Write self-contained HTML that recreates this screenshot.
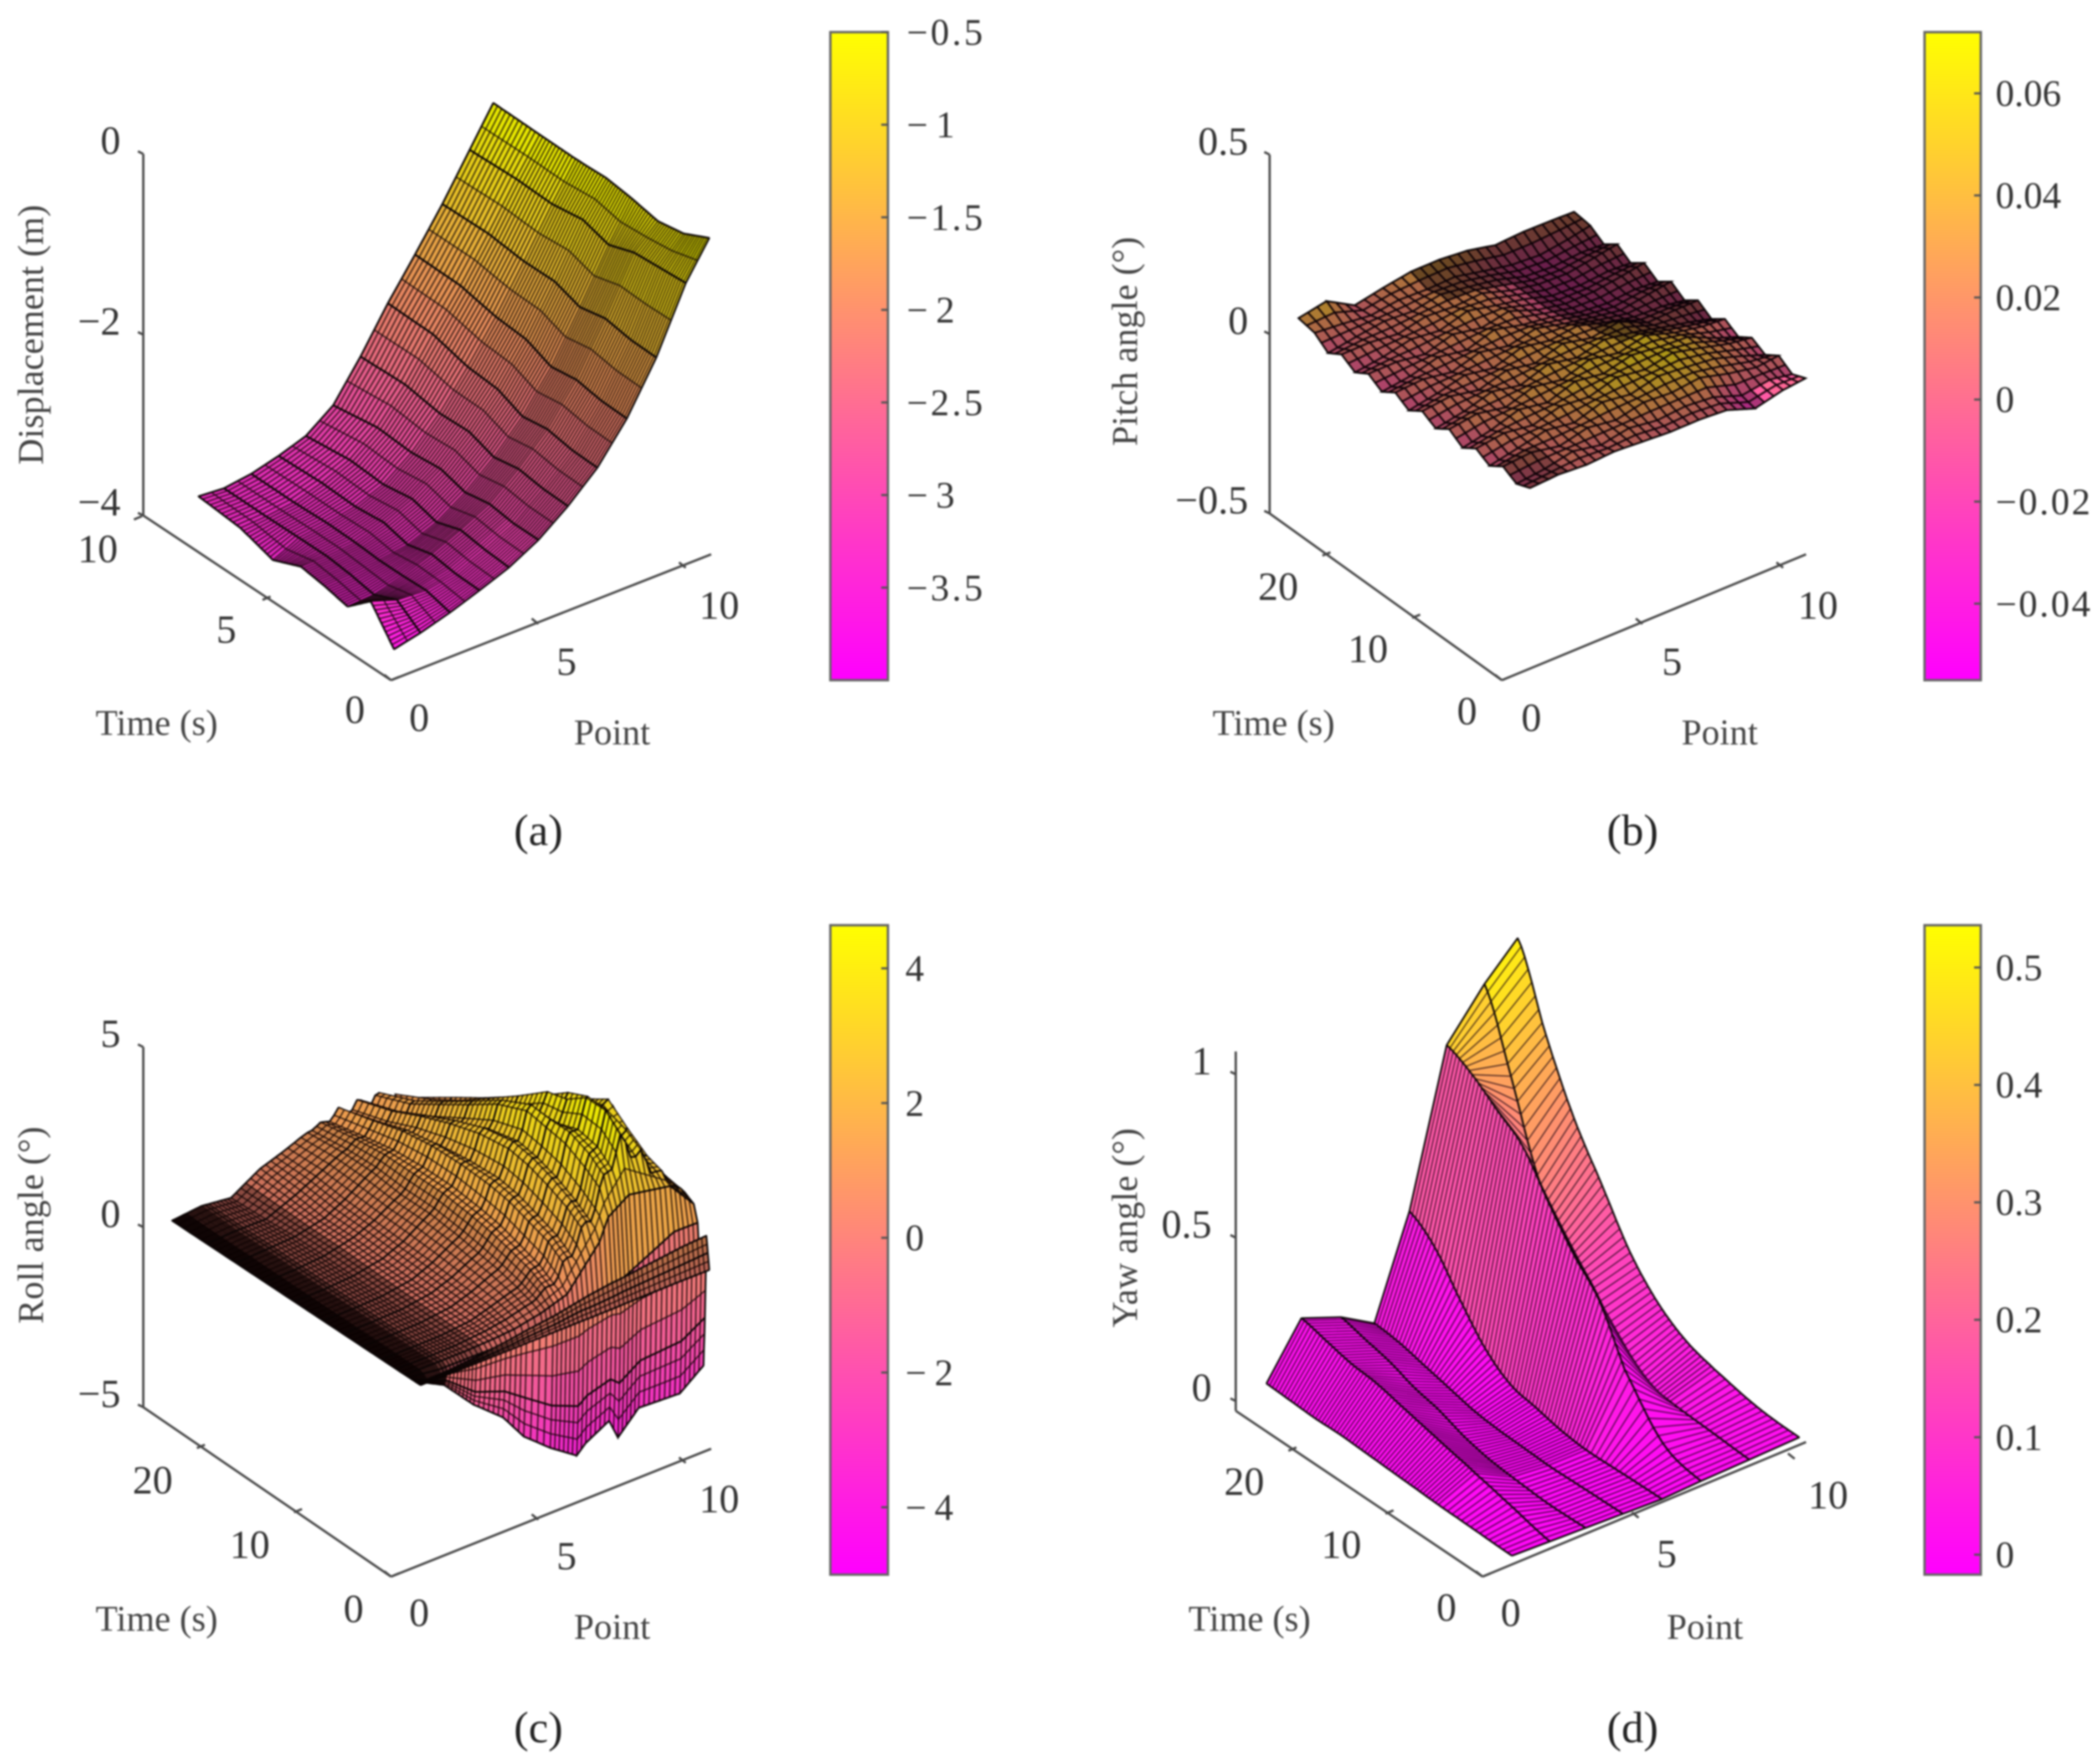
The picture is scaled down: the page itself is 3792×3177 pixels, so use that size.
<!DOCTYPE html>
<html lang="en">
<head>
<meta charset="utf-8">
<title>Surface plots of displacement, pitch, roll and yaw</title>
<style>
html,body{margin:0;padding:0;background:#fff}
svg{display:block;filter:blur(1.5px)}
text{font-family:"Liberation Serif",serif;fill:#333}
.tick{font-size:30px;text-anchor:middle}
.ztick{font-size:30px;text-anchor:end}
.bar{font-size:28px;text-anchor:start}
.title{font-size:27px;text-anchor:middle;fill:#444}
.cap{font-size:33px;text-anchor:middle;fill:#222}
</style>
</head>
<body>
<svg id="fig" xmlns="http://www.w3.org/2000/svg" width="3792" height="3177" viewBox="0 0 1568 1313.7">
<defs>
<linearGradient id="springGrad" x1="0" y1="1" x2="0" y2="0">
<stop offset="0" stop-color="#ff00ff"/><stop offset="0.5" stop-color="#ff8080"/><stop offset="1" stop-color="#ffff00"/>
</linearGradient>
</defs>
<rect width="1568" height="1313.7" fill="#fff"/>

<g id="chart-a"></g>
<g id="chart-b"></g>
<g id="chart-c"></g>
<g id="chart-d"></g>

<text class="title" transform="rotate(-90 23 250)" x="23" y="250" dy="9">Displacement (m)</text>
<text class="title" x="117" y="549">Time (s)</text>
<text class="title" x="457" y="556">Point</text>
<text class="cap" x="402" y="631">(a)</text>

<text class="title" transform="rotate(-90 840 255)" x="840" y="255" dy="9">Pitch angle (°)</text>
<text class="title" x="951" y="549">Time (s)</text>
<text class="title" x="1284" y="556">Point</text>
<text class="cap" x="1219" y="631">(b)</text>

<text class="title" transform="rotate(-90 23 915)" x="23" y="915" dy="9">Roll angle (°)</text>
<text class="title" x="117" y="1218">Time (s)</text>
<text class="title" x="457" y="1224">Point</text>
<text class="cap" x="402" y="1301">(c)</text>

<text class="title" transform="rotate(-90 840 917)" x="840" y="917" dy="9">Yaw angle (°)</text>
<text class="title" x="933" y="1218">Time (s)</text>
<text class="title" x="1273" y="1224">Point</text>
<text class="cap" x="1219" y="1301">(d)</text>
</svg>

<script>
/* ---------- chart (a) values: displacement (m) ---------- */
const pointsA = [0.1,1,2,3,4,5,6,7,8,9,10,10.8];
const timesA = [0,1,2,3,4,5.2,6.6,8.4];
const timeSpanA = [0.905,0.91,0.92,0.93,0.94,0.95,0.96,0.97,0.98,0.99,1,1];
const displacementA = [
 [-3.67,-3.6,-3.5,-3.38,-3.25,-3.07,-2.82,-2.52,-2.1,-1.55,-0.85,-0.45],
 [-3.3,-3.4,-3.42,-3.36,-3.22,-3.06,-2.8,-2.5,-2.08,-1.53,-0.86,-0.58],
 [-3.52,-3.5,-3.42,-3.31,-3.17,-3.01,-2.75,-2.44,-2.02,-1.47,-0.87,-0.62],
 [-3.45,-3.44,-3.41,-3.37,-3.25,-3.05,-2.79,-2.47,-2.05,-1.52,-0.96,-0.55],
 [-3.4,-3.4,-3.38,-3.29,-3.16,-2.96,-2.68,-2.34,-1.92,-1.41,-0.86,-0.5],
 [-3.52,-3.39,-3.36,-3.31,-3.2,-2.98,-2.68,-2.3,-1.88,-1.4,-0.9,-0.5],
 [-3.39,-3.38,-3.36,-3.28,-3.16,-2.94,-2.6,-2.18,-1.78,-1.34,-0.87,-0.48],
 [-3.33,-3.36,-3.34,-3.28,-3.2,-3,-2.6,-2.15,-1.75,-1.33,-0.87,-0.45]
];
const zTicksA = [0,-2,-4];
const zTickLabelsA = ['0','−2','−4'];
const timeTicksA = [0,5,10];
const timeTickLabelsA = ['0','5','10'];
const pointTicksA = [0,5,10];
const pointTickLabelsA = ['0','5','10'];
const barTicksA = [-0.5,-1,-1.5,-2,-2.5,-3,-3.5];
const barTickLabelsA = ['−0.5','−1','−1.5','−2','−2.5','−3','−3.5'];
const colorLimitsA = [-4,-0.5];

/* ---------- chart (b) values: pitch angle (deg) ---------- */
const pointsB = [1,2,3,4,5,6,7,8,9,10,10.8];
const timesB = [0,1.5,3,4.5,6,7.5,9,10.5,12,13.5,15,16.5,18,19.5,21,22.5,24,25.8];
const timeSpanB = [1,1,1,1,1,1,1,1,1,1,1];
const pitchB = [
 [.004,.010,.006,.012,.008,.004,.006,.002,-.025,-.005,.003],
 [-.010,.000,.018,.004,.020,.010,.018,.012,-.015,-.002,-.012],
 [.012,.020,.006,.026,.016,.034,.030,.040,.020,.006,.014],
 [-.012,.006,.024,.014,.040,.030,.050,.044,.036,.012,-.010],
 [.010,.022,.012,.034,.028,.052,.042,.058,.040,.020,.012],
 [-.014,.004,.030,.018,.046,.036,.056,.048,.044,.010,-.012],
 [.012,.024,.010,.036,.024,.050,.036,.054,.030,.016,.012],
 [-.012,.004,.028,.014,.042,.028,.048,.036,.018,.002,-.014],
 [.010,.020,.006,.030,.018,.042,.026,.040,.006,.010,.012],
 [-.014,.002,.022,.010,.036,.024,.034,.012,-.004,-.006,-.014],
 [.010,.016,.004,.028,.014,.032,.014,.000,-.012,.002,.012],
 [-.014,-.002,.020,.008,.034,.016,.006,-.012,-.018,-.010,-.014],
 [.010,.012,.002,.026,.012,.028,.000,-.014,-.012,.000,.012],
 [-.012,.000,.018,.010,.034,.018,.004,-.018,-.020,-.012,-.014],
 [.012,.014,.006,.024,.020,.026,.002,-.012,-.014,.000,.012],
 [-.010,.004,.016,.012,.028,.018,.006,-.016,-.020,-.012,-.014],
 [.020,.014,.006,.018,.016,.020,.004,-.010,-.014,-.002,.012],
 [.030,.046,.003,.020,.034,.036,.030,.014,.020,.020,.019]
];
const zTicksB = [0.5,0,-0.5];
const zTickLabelsB = ['0.5','0','−0.5'];
const timeTicksB = [0,10,20];
const timeTickLabelsB = ['0','10','20'];
const pointTicksB = [0,5,10];
const pointTickLabelsB = ['0','5','10'];
const barTicksB = [0.06,0.04,0.02,0,-0.02,-0.04];
const barTickLabelsB = ['0.06','0.04','0.02','0','−0.02','−0.04'];
const colorLimitsB = [-0.055,0.072];

/* ---------- chart (c) values: roll angle (deg) ---------- */
const pointsC = [1,2,3,4,4.7,5.6,6.5,6.8,7.6,7.9,8.6,10,10.8];
const timesC = [0,0.15,0.3,0.45,0.6,0.8,1.2,1.6,2.5,4,6,8,10,13,16,19,22,25.6];
const timeSpanC = [1,1,1,1,1,1,1,1,1,1,1,1,1];
const rollC = [
 [0,0,.01,.02,.03,.04,.05,.05,.06,.07,.08,.1,.1],
 [0,.01,.05,.1,.15,.2,.3,.3,.35,.38,.42,.5,.55],
 [0,.02,.1,.2,.3,.4,.55,.6,.7,.72,.8,.95,1],
 [0,-.25,-.9,-1.2,-1.6,-2.1,-2.4,-2.2,-2,-2.2,-1.8,-1.7,-1.3],
 [0,-.42,-1.28,-1.95,-2.7,-3.3,-3.8,-3.55,-3.18,-3.74,-3.14,-3.18,-2.66],
 [0,-.3,-1,-1.6,-2.3,-2.9,-3.3,-3.2,-2.8,-3,-2.2,-1.5,-.8],
 [0,-.1,-.1,-.1,-.2,-.3,-.3,-.2,0,.3,.6,1.2,1.2],
 [0,0,.01,.05,.1,.25,.5,.8,1.6,2.2,2.6,2.4,1.65],
 [0,0,.02,.1,.2,.4,.8,1.2,2.2,2.8,3.9,2.55,1.8],
 [0,.01,.03,.12,.3,.55,1.1,1.5,2.5,3.1,4.3,2.7,1.85],
 [0,.01,.04,.15,.35,.7,1.3,1.7,2.8,3.4,4.3,3.1,2],
 [0,.01,.05,.18,.4,.8,1.5,1.9,3,3.5,3.9,3.55,2.3],
 [0,.02,.06,.2,.45,.9,1.6,2,3.1,3.6,3.75,3.2,2.9],
 [0,.02,.08,.25,.5,1,1.7,2,2.9,3.25,3.1,2.6,2.36],
 [0,.03,.1,.3,.55,1,1.7,1.95,2.5,2.7,2.5,2.06,1.84],
 [0,.05,.1,.3,.6,1.1,1.6,1.8,2.05,2.17,1.9,1.54,1.3],
 [0,.05,.05,.4,.7,1.1,1.4,1.5,1.6,1.65,1.4,1,.76],
 [0,.09,0,.5,.7,1,1.15,1.2,1.25,1.25,.9,.2,-.1]
];
const rollRippleC = [.3,-.26,.22,-.32,.28,-.18,.34,-.28,.24,-.3,.2,-.24,.32,-.28];
const zTicksC = [5,0,-5];
const zTickLabelsC = ['5','0','−5'];
const timeTicksC = [0,10,20];
const timeTickLabelsC = ['0','10','20'];
const pointTicksC = [0,5,10];
const pointTickLabelsC = ['0','5','10'];
const barTicksC = [4,2,0,-2,-4];
const barTickLabelsC = ['4','2','0','−2','−4'];
const colorLimitsC = [-5,4.64];

/* ---------- chart (d) values: yaw angle (deg) ---------- */
const pointsD = [0.94,2.16,3.3,4.5,5.75,7,8.55,10.15];
const timesD = [0,4.35,8.7,11.6,14.5,17.4,20.3,23.2,26.1,29];
const timeSpanD = [0.872,0.883,0.869,0.883,0.897,0.903,0.941,1];
const yawD = [
 [0,0,0,0,0,.01,.02,.03],
 [.005,.03,0,0,0,.05,.03,.04],
 [.01,.06,.01,0,0,.2,.04,.07],
 [.015,.08,.02,.005,.01,.36,.06,.1],
 [.02,.1,.04,.01,.03,.45,.14,.16],
 [.025,.12,.07,.02,.05,.56,.25,.26],
 [.03,.14,.09,.04,.11,.68,.34,.41],
 [.03,.15,.12,.06,.21,.74,.47,.56],
 [.035,.17,.14,.08,.32,.8,.72,.76],
 [.04,.19,.16,.09,.38,.84,.95,1]
];
const yawColorWeightD = [0.1,0.1,0.1,0.1,0.1,0.21,0.47,0.5];
const zTicksD = [1,0.5,0];
const zTickLabelsD = ['1','0.5','0'];
const timeTicksD = [0,10,20];
const timeTickLabelsD = ['0','10','20'];
const pointTicksD = [0,5,10];
const pointTickLabelsD = ['0','5','10'];
const barTicksD = [0.5,0.4,0.3,0.2,0.1,0];
const barTickLabelsD = ['0.5','0.4','0.3','0.2','0.1','0'];
const colorLimitsD = [-0.017,0.536];

/* ---------- rendering ---------- */
const NS = 'http://www.w3.org/2000/svg';
function make(parent, tag, attrs){
  const el = document.createElementNS(NS, tag);
  for (const k in attrs) el.setAttribute(k, attrs[k]);
  parent.appendChild(el);
  return el;
}
function springColor(v, lim, shade){
  const f = Math.max(0, Math.min(1, (v - lim[0]) / (lim[1] - lim[0])));
  return 'rgb(' + Math.round(255 * shade) + ',' + Math.round(255 * f * shade) + ',' + Math.round(255 * (1 - f) * shade) + ')';
}
function expand(sub, n){
  const out = [];
  for (let i = 0; i < n - 1; i++){
    const s = Array.isArray(sub) ? sub[i] : sub;
    for (let k = 0; k < s; k++) out.push({i: i, f: k / s, first: k === 0});
  }
  const last = {i: n - 2, f: 1, first: true};
  out.push(last);
  return out;
}
function lerp(a, b, f){ return a + (b - a) * f; }
function catmull(a, b, c, d, f){
  return 0.5 * ((2 * b) + (c - a) * f + (2 * a - 5 * b + 4 * c - d) * f * f + (3 * b - a - 3 * c + d) * f * f * f);
}
function widenMinus(lb, text){
  if (text.charAt(0) === '−') lb.setAttribute('textLength', (lb.getComputedTextLength() + 6).toFixed(1));
}

function drawChart(c){
  const g = document.getElementById(c.id);
  const xOf = (p, t) => c.origin[0] + p * c.pointVec[0] + t * c.timeVec[0];
  const yOf = (p, t, z) => c.origin[1] + p * c.pointVec[1] + t * c.timeVec[1] - (z - c.zMin) * c.zScale;
  const zAxisY = v => c.zBase[1] - (v - c.zMin) * c.zScale;
  const axisStyle = {stroke: '#484848', 'stroke-width': 1.7, fill: 'none'};

  /* axes */
  const ax = make(g, 'g', axisStyle);
  
  
  const zLine = make(ax, 'line', {x1: c.zBase[0], y1: c.zBase[1], x2: c.zBase[0], y2: zAxisY(c.zMax)});
  
  
  const tLine = make(ax, 'line', {x1: c.origin[0], y1: c.origin[1], x2: c.zBase[0], y2: c.zBase[1]});
  
  
  const pLine = make(ax, 'line', {x1: c.origin[0], y1: c.origin[1], x2: c.pointEnd[0], y2: c.pointEnd[1]});
  
  

  c.zTicks.forEach((v, i) => {
    const y = zAxisY(v);
    const tk = make(ax, 'line', {x1: c.zBase[0], y1: y, x2: c.zBase[0] - 4, y2: y - 2});
    
    
    const lb = make(g, 'text', {'class': 'ztick', x: c.zBase[0] - c.zLabelGap, y: y});
    
    
    lb.textContent = c.zLabels[i];
  });
  c.timeTicks.forEach((v, i) => {
    const x = xOf(0, v), y = yOf(0, v, c.zMin);
    const tk = make(ax, 'line', {x1: x, y1: y, x2: x + 6, y2: y - 2.5});
    
    
    const lb = make(g, 'text', {'class': 'tick', x: x + c.timeOff[0] + (v === 0 ? c.timeZeroDx : 0), y: y + c.timeOff[1]});
    
    
    lb.textContent = c.timeLabels[i];
  });
  c.pointTicks.forEach((v, i) => {
    const x = xOf(v, 0), y = yOf(v, 0, c.zMin);
    const tk = make(ax, 'line', {x1: x, y1: y, x2: x - 5, y2: y - 4});
    
    
    const lb = make(g, 'text', {'class': 'tick', x: x + c.pointOff[0] + (v >= 10 ? 4 : 0), y: y + c.pointOff[1]});
    
    
    lb.textContent = c.pointLabels[i];
  });

  /* surface */
  const surf = make(g, 'g', {});
  
  
  const nR = c.times.length, nC = c.points.length;
  const colsG = expand(c.subPoint, nC), rowsG = expand(c.subTime, nR);
  const sampleRow = (r, col) => c.values[Math.max(0, Math.min(nR - 1, r))][col];
  const zAt = (rg, col) => {
    if (!c.smooth) return lerp(sampleRow(rg.i, col), sampleRow(rg.i + 1, col), rg.f);
    return catmull(sampleRow(rg.i - 1, col), sampleRow(rg.i, col), sampleRow(rg.i + 1, col), sampleRow(rg.i + 2, col), rg.f);
  };
  const V = rowsG.map(rg => colsG.map(cg => {
    const p = lerp(c.points[cg.i], c.points[cg.i + 1], cg.f);
    const span = lerp(c.span[cg.i], c.span[cg.i + 1], cg.f);
    const t = lerp(c.times[rg.i], c.times[rg.i + 1], rg.f) * span;
    let z = lerp(zAt(rg, cg.i), zAt(rg, cg.i + 1), cg.f);
    if (c.ripple && t >= c.rippleFrom){
      const u = p * 3, i0 = Math.floor(u), n = c.ripple.length;
      const amp = Math.max(0, Math.min(1, (p - 5.5) / 2)) * Math.max(0, Math.min(1, (10.8 - p) / 1.5));
      z += lerp(c.ripple[i0 % n], c.ripple[(i0 + 1) % n], u - i0) * amp;
    }
    const w = c.weight ? lerp(c.weight[cg.i], c.weight[cg.i + 1], cg.f) : 1;
    return {x: xOf(p, t).toFixed(1), y: yOf(p, t, z).toFixed(1), col: z * w, p: p, t: t};
  }));
  const edge = (a, b) => 'M' + a.x + ' ' + a.y + 'L' + b.x + ' ' + b.y;
  for (let r = V.length - 2; r >= 0; r--){
    for (let k = colsG.length - 2; k >= 0; k--){
      const a = V[r][k], b = V[r][k + 1], d = V[r + 1][k + 1], e = V[r + 1][k];
      const shade = c.shade ? c.shade((a.p + b.p) / 2, (a.t + e.t) / 2) : 1;
      const facet = document.createElementNS(NS, 'path');
      
      
      facet.setAttribute('d', 'M' + a.x + ' ' + a.y + 'L' + b.x + ' ' + b.y + 'L' + d.x + ' ' + d.y + 'L' + e.x + ' ' + e.y + 'Z');
      facet.setAttribute('fill', springColor((b.col + d.col) / 2, c.colorLim, shade));
      facet.setAttribute('stroke', c.fineColor);
      facet.setAttribute('stroke-width', c.fine);
      surf.appendChild(facet);
      let heavy = '';
      if (c.coarsePoint){
        if (colsG[k].first) heavy += edge(a, e);
        if (colsG[k + 1].first) heavy += edge(b, d);
      }
      if (k === 0 || k === colsG.length - 2){
        heavy += k === 0 ? edge(a, e) : edge(b, d);
      }
      if (r === 0) heavy += edge(a, b);
      if (r === V.length - 2) heavy += edge(e, d);
      if (c.coarseTime){
        if (rowsG[r].first) heavy += edge(a, b);
        if (rowsG[r + 1].first) heavy += edge(e, d);
      }
      if (heavy){
        const line = document.createElementNS(NS, 'path');
        
        
        line.setAttribute('d', heavy);
        line.setAttribute('fill', 'none');
        line.setAttribute('stroke', '#0a0505');
        line.setAttribute('stroke-width', c.coarse);
        surf.appendChild(line);
      }
    }
  }

  /* colour bar */
  const barG = make(g, 'g', {});
  
  
  const barY = v => c.bar.bottom - (v - c.colorLim[0]) / (c.colorLim[1] - c.colorLim[0]) * (c.bar.bottom - c.bar.top);
  const rect = make(barG, 'rect', {x: c.bar.left, y: c.bar.top, width: c.bar.right - c.bar.left, height: c.bar.bottom - c.bar.top, fill: 'url(#springGrad)', stroke: '#666', 'stroke-width': 1.8});
  
  
  c.barTicks.forEach((v, i) => {
    const y = barY(v);
    const tk = make(barG, 'line', {x1: c.bar.right - 5, y1: y, x2: c.bar.right, y2: y, stroke: '#555', 'stroke-width': 1.6});
    
    
    const lb = make(barG, 'text', {'class': 'bar', x: c.bar.right + c.bar.gap, y: y + 9.5});
    
    
    lb.textContent = c.barLabels[i];
    widenMinus(lb, c.barLabels[i]);
  });
}

drawChart({id:'chart-a', origin:[292,508], pointVec:[22,-8.4], timeVec:[-19.2,-12], zScale:67.5, zMin:-4, zMax:0,
  zBase:[107,385], pointEnd:[531,414], zLabelGap:17, timeOff:[-27,32], timeZeroDx:0, pointOff:[21,38],
  points:pointsA, times:timesA, span:timeSpanA, values:displacementA, colorLim:colorLimitsA,
  zTicks:zTicksA, zLabels:zTickLabelsA, timeTicks:timeTicksA, timeLabels:timeTickLabelsA, pointTicks:pointTicksA, pointLabels:pointTickLabelsA,
  barTicks:barTicksA, barLabels:barTickLabelsA, bar:{left:620,right:663,top:24,bottom:508,gap:14},
  subPoint:2, subTime:11, fine:0.95, fineColor:'rgba(15,5,5,.75)', coarse:1.4, coarsePoint:true,
  shade:(p,t)=> (t<1.2&&p<5) ? 1 : 0.9});

drawChart({id:'chart-b', origin:[1121.4,508], pointVec:[21,-8.4], timeVec:[-6.7,-4.65], zScale:268, zMin:-0.5, zMax:0.5,
  zBase:[948,383.5], pointEnd:[1348.5,414], zLabelGap:16, timeOff:[-33,33], timeZeroDx:7, pointOff:[22,38],
  points:pointsB, times:timesB, span:timeSpanB, values:pitchB, colorLim:colorLimitsB,
  zTicks:zTicksB, zLabels:zTickLabelsB, timeTicks:timeTicksB, timeLabels:timeTickLabelsB, pointTicks:pointTicksB, pointLabels:pointTickLabelsB,
  barTicks:barTicksB, barLabels:barTickLabelsB, bar:{left:1437,right:1479,top:24,bottom:508,gap:11},
  subPoint:3, subTime:2, fine:1.3, fineColor:'rgba(10,0,5,.9)', coarse:1.3,
  shade:(p,t)=> (p>9.2&&t<1.6) ? 1 : (p>7.2&&t>10) ? 0.42 : (t>22&&p>5) ? 0.42 : (p<2.5&&t<4) ? 0.5 : 0.68});

drawChart({id:'chart-c', origin:[292,1177.5], pointVec:[22,-8.5], timeVec:[-7.25,-4.8], zScale:26.9, zMin:-5, zMax:5,
  zBase:[107,1051], pointEnd:[531,1082], zLabelGap:17, timeOff:[-33,34], timeZeroDx:5, pointOff:[21,37],
  points:pointsC, times:timesC, span:timeSpanC, values:rollC, colorLim:colorLimitsC,
  ripple:rollRippleC, rippleFrom:2.5,
  zTicks:zTicksC, zLabels:zTickLabelsC, timeTicks:timeTicksC, timeLabels:timeTickLabelsC, pointTicks:pointTicksC, pointLabels:pointTickLabelsC,
  barTicks:barTicksC, barLabels:barTickLabelsC, bar:{left:620,right:663,top:691,bottom:1176,gap:13},
  subPoint:[16,8,6,4,4,6,2,5,2,5,8,5], subTime:[2,2,3,3,2,1,1,2,4,4,4,4,6,6,6,6,6], fine:0.95, fineColor:'rgba(10,0,0,.75)', coarse:1.3, coarseTime:true,
  shade:(p,t)=> t<0.31 ? 0.72 : t<0.62 ? (p<2 ? 0.3 : 0.95) : p<1.5 ? 0.1 : p<2.3 ? 0.35 : p<3.5 ? 0.55 : p<6 ? 0.8 : 0.92});

drawChart({id:'chart-d', origin:[1107,1177.5], pointVec:[23.3,-8.8], timeVec:[-7.25,-4.7], zScale:244, zMin:-0.03, zMax:1.07,
  zBase:[922.7,1053.7], pointEnd:[1348.5,1077], zLabelGap:18, timeOff:[-33,33], timeZeroDx:6, pointOff:[21,37],
  points:pointsD, times:timesD, span:timeSpanD, values:yawD, weight:yawColorWeightD, colorLim:colorLimitsD, smooth:true,
  zTicks:zTicksD, zLabels:zTickLabelsD, timeTicks:timeTicksD, timeLabels:timeTickLabelsD, pointTicks:pointTicksD, pointLabels:pointTickLabelsD,
  barTicks:barTicksD, barLabels:barTickLabelsD, bar:{left:1437,right:1479,top:691,bottom:1176,gap:11},
  subPoint:1, subTime:8, fine:0.8, fineColor:'rgba(20,0,15,.7)', coarse:1.3, coarsePoint:true});
</script>
</body>
</html>
